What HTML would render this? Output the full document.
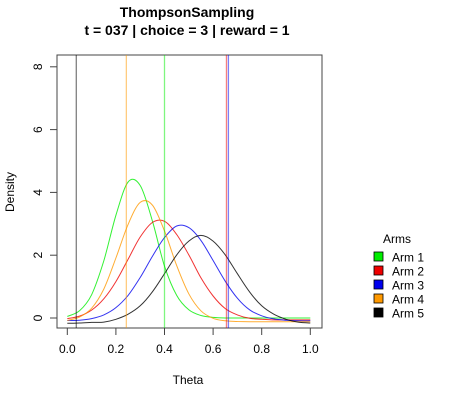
<!DOCTYPE html>
<html><head><meta charset="utf-8"><style>
body{margin:0;background:#fff;}
svg text{font-family:"Liberation Sans",Arial,sans-serif;}
</style></head><body>
<svg width="450" height="400">
<rect width="450" height="400" fill="#fff"/>
<text x="187" y="17" text-anchor="middle" font-size="14" font-weight="bold">ThompsonSampling</text>
<text x="187" y="35" text-anchor="middle" font-size="14" font-weight="bold">t = 037 | choice = 3 | reward = 1</text>
<g id="plot"></g>
<text x="188" y="384" text-anchor="middle" font-size="12">Theta</text>
<text transform="translate(14,192) rotate(-90)" text-anchor="middle" font-size="12">Density</text>
<g>
<text x="383" y="243" font-size="12">Arms</text>
<g id="legend"></g>
</g>
</svg>
<script>
const thetas=[0,0.05,0.1,0.15,0.2,0.25,0.3,0.35,0.4,0.45,0.5,0.55,0.6,0.65,0.7,0.75,0.8,0.85,0.9,0.95,1];
const arm1=[0.05,0.23,0.74,1.82,3.27,4.33,4.22,3.1,1.65,0.72,0.26,0.08,0.02,0,0,0,0,0,0,0,0];
const arm2=[0.04,0.12,0.31,0.67,1.22,1.93,2.64,3.1,3.14,2.72,2.07,1.34,0.76,0.36,0.16,0.05,0.02,0,0,0,0];
const arm3=[0.01,0.02,0.07,0.19,0.42,0.81,1.38,2.05,2.65,3.02,2.97,2.56,1.92,1.26,0.72,0.35,0.16,0.06,0.02,0,0];
const arm4=[0.04,0.15,0.43,1.04,2.03,3.1,3.8,3.72,2.89,1.79,0.89,0.35,0.11,0.03,0.01,0,0,0,0,0,0];
const arm5=[0,0.01,0.03,0.04,0.13,0.29,0.56,1.0,1.58,2.18,2.62,2.8,2.62,2.18,1.58,1.0,0.56,0.29,0.13,0.04,0.01];
const offsets=[0,-0.06,-0.09,-0.12,-0.17];
const samples=[0.40,0.655,0.663,0.243,0.037];
const sampleArms=[0,1,2,3,4];
const armNames=["Arm 1","Arm 2","Arm 3","Arm 4","Arm 5"];
const colors=["#00ee00","#ee0000","#0000ee","#ff9900","#000000"];
const xTicks=[0,0.2,0.4,0.6,0.8,1.0];
const xTickLabels=["0.0","0.2","0.4","0.6","0.8","1.0"];
const yTicks=[0,2,4,6,8];
const series=[arm1,arm2,arm3,arm4,arm5];
const NS="http://www.w3.org/2000/svg";
const X=v=>67.3+v*243;
const Y=v=>318-v*31.4;
const g=document.getElementById('plot');
function mk(t,a,p){const e=document.createElementNS(NS,t);for(const k in a)e.setAttribute(k,a[k]);(p||g).appendChild(e);return e;}
const box=mk('rect',{x:57,y:55,width:265,height:273,fill:'none',stroke:'#444','stroke-width':1});


xTicks.forEach((t,i)=>{
 const l=mk('line',{x1:X(t),x2:X(t),y1:328,y2:335,stroke:'#444'});
 
 
 const tx=mk('text',{x:X(t),y:353,'text-anchor':'middle','font-size':12});tx.textContent=xTickLabels[i];
 
 
});
mk('line',{x1:X(0),x2:X(1),y1:328,y2:328,stroke:'#444'});
yTicks.forEach(t=>{
 const l=mk('line',{x1:50,x2:57,y1:Y(t),y2:Y(t),stroke:'#444'});
 
 
 const tx=mk('text',{transform:`translate(${42},${Y(t)}) rotate(-90)`,'text-anchor':'middle','font-size':12});tx.textContent=t;
 
 
});
series.forEach((s,k)=>{
 const pts=s.map((v,i)=>[X(thetas[i]),Y(Math.max(0,v)+offsets[k])]);
 let d='M'+pts[0][0].toFixed(1)+','+pts[0][1].toFixed(1);
 for(let i=0;i<pts.length-1;i++){
  const p0=pts[Math.max(0,i-1)],p1=pts[i],p2=pts[i+1],p3=pts[Math.min(pts.length-1,i+2)];
  const c1=[p1[0]+(p2[0]-p0[0])/6,p1[1]+(p2[1]-p0[1])/6];
  const c2=[p2[0]-(p3[0]-p1[0])/6,p2[1]-(p3[1]-p1[1])/6];
  d+='C'+c1[0].toFixed(1)+','+c1[1].toFixed(1)+' '+c2[0].toFixed(1)+','+c2[1].toFixed(1)+' '+p2[0].toFixed(1)+','+p2[1].toFixed(1);
 }
 const p=mk('path',{d:d,fill:'none',stroke:colors[k],'stroke-width':1,'stroke-linejoin':'round','stroke-opacity':0.8});
 
 
});
samples.forEach((v,i)=>{
 const l=mk('line',{x1:X(v),x2:X(v),y1:55,y2:328,stroke:colors[sampleArms[i]],'stroke-opacity':0.5,'stroke-width':1.3});
 
 
});
const lg=document.getElementById('legend');
armNames.forEach((n,i)=>{
 const y=257+i*14;
 const r=mk('rect',{x:374,y:y-5,width:9,height:9,fill:colors[i],stroke:'#000','stroke-width':0.8},lg);
 
 
 const t=mk('text',{x:392,y:y+4.5,'font-size':12},lg);t.textContent=n;
 
 
});
</script>
</body></html>
